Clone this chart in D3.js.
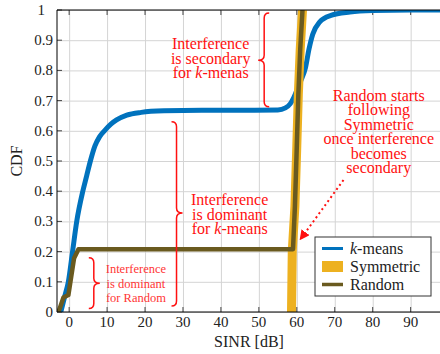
<html><head>
<script src="https://d3js.org/d3.v7.min.js"></script>
<style>
  body { margin: 0; background: #fff; }
  svg text { font-family: 'Liberation Serif', 'Times New Roman', Times, 'DejaVu Serif', 'Noto Serif', FreeSerif, serif !important; }
  .grid line { stroke: #d4d4d4; stroke-width: 1px; }
  .grid .domain { stroke: none; }
  .note { fill: #ff1010; font-size: 16px; }
  .note-small { fill: #ff3535; font-size: 12.5px; }
  .brace { fill: none; stroke: #ff1010; stroke-width: 1.5px; }
</style>
</head>
<body>
<svg id="chart" width="440" height="354"></svg>
<script>
  // values
  const xTicks = [0, 10, 20, 30, 40, 50, 60, 70, 80, 90];
  const yTicks = [0, 0.1, 0.2, 0.3, 0.4, 0.5, 0.6, 0.7, 0.8, 0.9, 1];
  const seriesNames = ["k-means", "Symmetric", "Random"];
  const seriesColors = ["#0072bd", "#edb120", "#6a5a1f"];

  const kmeansSinr = [-2.2, -1.2, -0.2, 0.9, 2.0, 3.6, 4.6, 5.6, 6.8, 8.0, 9.3, 11, 12.5, 15.2, 19, 25, 35, 45, 55, 57, 58.3, 59.2, 60.2, 61.2, 62.3, 63.2, 64.2, 66, 69, 74, 80, 90, 98];
  const kmeansCdf  = [0, 0.05, 0.1, 0.2, 0.3, 0.4, 0.45, 0.5, 0.55, 0.58, 0.6, 0.622, 0.636, 0.652, 0.661, 0.666, 0.668, 0.668, 0.669, 0.676, 0.69, 0.71, 0.74, 0.77, 0.81, 0.87, 0.92, 0.96, 0.982, 0.993, 0.998, 1, 1];

  const symSinr = [58.6, 58.8, 59.5, 60.0, 60.4, 60.9, 61.5];
  const symCdf  = [0, 0.2, 0.35, 0.55, 0.72, 0.87, 1];

  const randSinr = [-2.8, -1.5, -0.2, 1.3, 2.45, 59.0, 59.5, 60.0, 60.4, 60.9, 61.5];
  const randCdf  = [0, 0.048, 0.056, 0.178, 0.208, 0.208, 0.35, 0.55, 0.72, 0.87, 1];

  const svg = d3.select("svg#chart");
  const margin = { top: 10, left: 57, bottom: 42 };
  const height = svg.attr("height");
  const plotRight = 441;

  const xScale = d3.scaleLinear().domain([-3.2, 98]).range([margin.left, plotRight]);
  const yScale = d3.scaleLinear().domain([0, 1]).range([height - margin.bottom, margin.top]);

  svg.append("clipPath").attr("id", "plotclip")
    .append("rect")
    .attr("x", margin.left).attr("y", margin.top)
    .attr("width", plotRight - margin.left)
    .attr("height", yScale(0) - yScale(1));

  // gridlines
  svg.append("g").attr("class", "grid")
    .attr("transform", "translate(0," + yScale(0) + ")")
    .call(d3.axisBottom(xScale).tickValues(xTicks).tickSize(-(yScale(0) - yScale(1))).tickFormat(""));
  svg.append("g").attr("class", "grid")
    .attr("transform", "translate(" + margin.left + ",0)")
    .call(d3.axisLeft(yScale).tickValues(yTicks).tickSize(-(plotRight - margin.left)).tickFormat(""));

  // small inner ticks, pgfplots style
  const tickLen = 5;
  const ticks = svg.append("g").attr("stroke", "#444").attr("stroke-width", 1);
  ticks.selectAll(".xt").data(xTicks).enter().append("line")
    .attr("x1", d => xScale(d)).attr("x2", d => xScale(d))
    .attr("y1", yScale(0)).attr("y2", yScale(0) - tickLen);
  ticks.selectAll(".xt2").data(xTicks).enter().append("line")
    .attr("x1", d => xScale(d)).attr("x2", d => xScale(d))
    .attr("y1", yScale(1)).attr("y2", yScale(1) + tickLen);
  ticks.selectAll(".yt").data(yTicks).enter().append("line")
    .attr("x1", margin.left).attr("x2", margin.left + tickLen)
    .attr("y1", d => yScale(d)).attr("y2", d => yScale(d));

  // tick labels
  svg.selectAll(".xlab").data(xTicks).enter().append("text")
    .attr("x", d => xScale(d)).attr("y", yScale(0) + 15)
    .attr("text-anchor", "middle").attr("font-size", 15).attr("fill", "#222")
    .text(d => d);
  svg.selectAll(".ylab").data(yTicks).enter().append("text")
    .attr("x", d => d === 1 ? 45 : 53).attr("y", d => yScale(d) + 5)
    .attr("text-anchor", "end").attr("font-size", 15).attr("fill", "#222")
    .text(d => d3.format("~g")(d));

  // axis titles
  svg.append("text").attr("x", 249).attr("y", 347)
    .attr("text-anchor", "middle").attr("font-size", 16).attr("fill", "#222")
    .text("SINR [dB]");
  svg.append("text").attr("transform", "translate(22," + yScale(0.5) + ") rotate(-90)")
    .attr("text-anchor", "middle").attr("font-size", 16).attr("fill", "#222")
    .text("CDF");

  // the three CDF curves
  const curves = svg.append("g").attr("clip-path", "url(#plotclip)");
  const lineSmooth = d3.line().x(d => xScale(d[0])).y(d => yScale(d[1])).curve(d3.curveMonotoneX);
  const lineStraight = d3.line().x(d => xScale(d[0])).y(d => yScale(d[1]));

  curves.append("path")
    .datum(d3.zip(kmeansSinr, kmeansCdf))
    .attr("fill", "none").attr("stroke", seriesColors[0]).attr("stroke-width", 5)
    .attr("d", lineSmooth);
  curves.append("path")
    .datum(d3.zip(symSinr, symCdf))
    .attr("fill", "none").attr("stroke", seriesColors[1]).attr("stroke-width", 9)
    .attr("d", lineStraight);
  curves.append("path")
    .datum(d3.zip(randSinr, randCdf))
    .attr("fill", "none").attr("stroke", seriesColors[2]).attr("stroke-width", 4.5)
    .attr("stroke-linejoin", "round")
    .attr("d", lineStraight);

  // frame
  svg.append("path")
    .attr("d", "M" + plotRight + "," + yScale(1) + "H" + margin.left + "V" + yScale(0) + "H" + plotRight)
    .attr("fill", "none").attr("stroke", "#000").attr("stroke-width", 1);

  // curly brace, tip points toward dir (+1 right, -1 left)
  const brace = (xs, yTop, yBot, yTip, dir) => {
    const x = xScale(xs), y0 = yScale(yTop), y1 = yScale(yBot), ym = yScale(yTip);
    const e = x - dir * 5, t = x + dir * 6, r = 5;
    return "M" + e + "," + y0 +
      "Q" + x + "," + y0 + " " + x + "," + (y0 + r) +
      "L" + x + "," + (ym - r) +
      "Q" + x + "," + ym + " " + t + "," + ym +
      "Q" + x + "," + ym + " " + x + "," + (ym + r) +
      "L" + x + "," + (y1 - r) +
      "Q" + x + "," + y1 + " " + e + "," + y1;
  };

  svg.append("path").attr("class", "brace").attr("d", brace(51.4, 0.99, 0.68, 0.834, -1));
  svg.append("path").attr("class", "brace").attr("d", brace(28.3, 0.63, 0.02, 0.328, 1));
  svg.append("path").attr("class", "brace").attr("d", brace(6.5, 0.18, 0.012, 0.095, 1));

  // one text element per line
  const noteLines = (cls, cx, yFirst, step, lines) => {
    lines.forEach((ln, i) => {
      const t = svg.append("text").attr("class", cls).attr("text-anchor", "middle")
        .attr("x", xScale(cx)).attr("y", yScale(yFirst) + i * step);
      ln.forEach(part => {
        t.append("tspan").attr("font-style", part.it ? "italic" : null).text(part.s);
      });
    });
  };

  noteLines("note", 37.3, 0.87, 14.5, [
    [{ s: "Interference" }], [{ s: "is secondary" }], [{ s: "for " }, { s: "k", it: true }, { s: "-menas" }]
  ]);
  noteLines("note", 42.3, 0.353, 14.5, [
    [{ s: "Interference" }], [{ s: "is dominant" }], [{ s: "for " }, { s: "k", it: true }, { s: "-means" }]
  ]);
  noteLines("note-small", 17.6, 0.128, 14.4, [
    [{ s: "Interference" }], [{ s: "is dominant" }], [{ s: "for Random" }]
  ]);
  noteLines("note", 81.6, 0.7, 14.5, [
    [{ s: "Random starts" }], [{ s: "following" }], [{ s: "Symmetric" }],
    [{ s: "once interference" }], [{ s: "becomes" }], [{ s: "secondary" }]
  ]);

  // dotted arrow
  svg.append("defs").append("marker")
    .attr("id", "head").attr("viewBox", "0 0 10 10")
    .attr("refX", 9).attr("refY", 5)
    .attr("markerWidth", 5).attr("markerHeight", 5)
    .attr("orient", "auto")
    .append("path").attr("d", "M0,0L10,5L0,10z").attr("fill", "#ff1010");
  svg.append("line")
    .attr("x1", xScale(72.3)).attr("y1", yScale(0.437))
    .attr("x2", xScale(60.9)).attr("y2", yScale(0.24))
    .attr("stroke", "#ff1010").attr("stroke-width", 2)
    .attr("stroke-dasharray", "2,3")
    .attr("marker-end", "url(#head)");

  // legend
  const legend = svg.append("g").attr("transform", "translate(315,237)");
  legend.append("rect").attr("width", 116).attr("height", 59)
    .attr("fill", "#fff").attr("stroke", "#333").attr("stroke-width", 1);
  const legendWidths = [3, 11, 3.5];
  seriesNames.forEach((name, i) => {
    const cy = 11.5 + i * 18;
    legend.append("line").attr("x1", 7).attr("x2", 28).attr("y1", cy).attr("y2", cy)
      .attr("stroke", seriesColors[i]).attr("stroke-width", legendWidths[i]);
    const t = legend.append("text").attr("x", 35).attr("y", cy + 5)
      .attr("font-size", 16).attr("fill", "#222");
    if (name === "k-means") {
      t.append("tspan").attr("font-style", "italic").text("k");
      t.append("tspan").text("-means");
    } else {
      t.text(name);
    }
  });
</script>
</body>
</html>
